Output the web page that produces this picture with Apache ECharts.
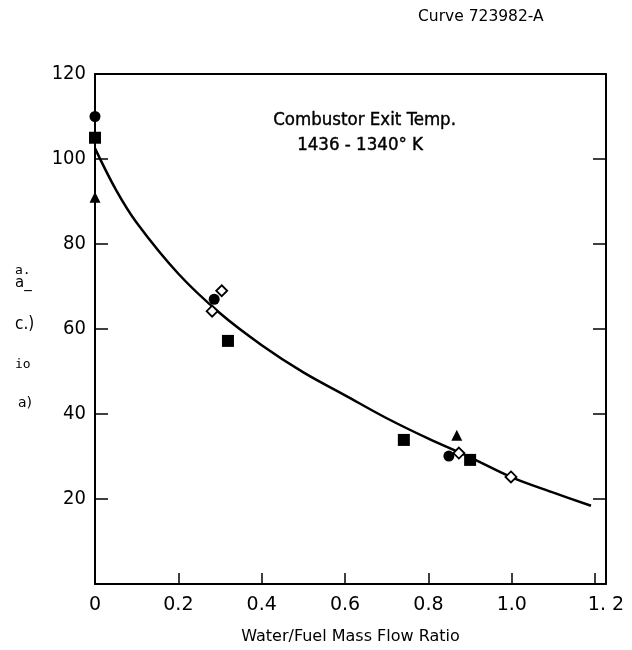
<!DOCTYPE html>
<html>
<head>
<meta charset="utf-8">
<script src="https://cdn.jsdelivr.net/npm/echarts@6/dist/echarts.min.js"></script>
<style>html,body{margin:0;padding:0;background:#fff}#c{width:632px;height:650px}</style>
</head>
<body>
<div id="c"></div>
<script>
// Fitted curve
var curveX = [0, 0.05, 0.1, 0.2, 0.3, 0.4, 0.5, 0.6, 0.7, 0.8, 0.9, 1.0, 1.1, 1.19];
var curveY = [102.5, 92.8, 85, 73, 63.7, 56.2, 49.8, 44.4, 39, 34.2, 29.8, 25.1, 21.5, 18.4];
// Measured points
var squareX = [0, 0.319, 0.741, 0.9];
var squareY = [105, 57.2, 33.9, 29.2];
var circleX = [0, 0.286, 0.849];
var circleY = [110, 67, 30.1];
var triangleX = [0, 0.868];
var triangleY = [91, 35];
var diamondX = [0.304, 0.281, 0.873, 0.998];
var diamondY = [69, 64.2, 30.8, 25.2];
// Axis ticks
var yTicks = [20, 40, 60, 80, 100, 120];

function pairs(xs, ys) { return xs.map(function (x, i) { return [x, ys[i]]; }); }

var chart = echarts.init(document.getElementById('c'), null, { renderer: 'canvas' });
function axisLine() { return { show: true, onZero: false, lineStyle: { color: '#000', width: 2 } }; }
chart.setOption({
  backgroundColor: '#fff',
  animation: false,
  grid: { left: 95, right: 26, top: 74, bottom: 66, show: false },
  xAxis: [{
    type: 'value', min: 0, max: 1.226, interval: 0.2, position: 'bottom',
    axisLine: axisLine(),
    axisTick: { show: true, inside: true, length: 11, lineStyle: { color: '#000', width: 1.5 } },
    splitLine: { show: false },
    axisLabel: {
      color: '#000', fontFamily: 'DejaVu Sans', fontSize: 19, margin: 12,
      showMinLabel: true, showMaxLabel: true,
      formatter: function (v) {
        if (v === 0) return '0';
        if (v > 1.21) return '1. 2';
        if (Math.abs(v - 1.2) < 1e-6) return '';
        return v.toFixed(1);
      }
    },
    name: 'Water/Fuel Mass Flow Ratio', nameLocation: 'middle', nameGap: 45,
    nameTextStyle: { color: '#000', fontFamily: 'DejaVu Sans', fontSize: 16 }
  }, {
    type: 'value', min: 0, max: 1.226, interval: 0.2, position: 'top',
    axisLine: axisLine(), axisTick: { show: false }, axisLabel: { show: false }, splitLine: { show: false }
  }],
  yAxis: [{
    type: 'value', min: 0, max: 120, interval: 20, position: 'left',
    axisLine: axisLine(),
    axisTick: { show: true, inside: true, length: 13, lineStyle: { color: '#000', width: 1.5 } },
    splitLine: { show: false },
    axisLabel: {
      color: '#000', fontFamily: 'DejaVu Sans Condensed', fontSize: 20, margin: 9,
      formatter: function (v) { return yTicks.indexOf(v) >= 0 ? String(v) : ''; }
    }
  }, {
    type: 'value', min: 0, max: 120, interval: 20, position: 'right',
    axisLine: axisLine(),
    axisTick: { show: true, inside: true, length: 13, lineStyle: { color: '#000', width: 1.5 } },
    axisLabel: { show: false }, splitLine: { show: false }
  }],
  series: [{
    type: 'line', smooth: 0.35, showSymbol: false, data: pairs(curveX, curveY),
    lineStyle: { color: '#000', width: 2.5 }, z: 2
  }, {
    type: 'scatter', symbol: 'rect', symbolSize: 12, data: pairs(squareX, squareY),
    itemStyle: { color: '#000', opacity: 1 }, z: 3
  }, {
    type: 'scatter', symbol: 'circle', symbolSize: 11, data: pairs(circleX, circleY),
    itemStyle: { color: '#000', opacity: 1 }, z: 3
  }, {
    type: 'scatter', symbol: 'triangle', symbolSize: 11, data: pairs(triangleX, triangleY),
    itemStyle: { color: '#000', opacity: 1 }, z: 3
  }, {
    type: 'scatter', symbol: 'diamond', symbolSize: 11, data: pairs(diamondX, diamondY),
    itemStyle: { color: '#fff', borderColor: '#000', borderWidth: 1.8, opacity: 1 }, z: 4
  }],
  graphic: [
    { type: 'text', left: 418, top: 9, style: { text: 'Curve 723982-A', fill: '#000', font: '15.5px "DejaVu Sans"' } },
    { type: 'text', left: 273, top: 110, style: { text: 'Combustor Exit Temp.', fill: '#000', font: '18.5px "DejaVu Sans Condensed"', stroke: '#000', lineWidth: 0.4 } },
    { type: 'text', left: 297, top: 135, style: { text: '1436 - 1340\u00b0 K', fill: '#000', font: '18.5px "DejaVu Sans Condensed"', stroke: '#000', lineWidth: 0.4 } },
    { type: 'text', left: 15, top: 264, style: { text: 'a.', fill: '#000', font: '13px "DejaVu Sans Mono"' } },
    { type: 'text', left: 15, top: 276, style: { text: 'a_', fill: '#000', font: '15px "DejaVu Sans"' } },
    { type: 'text', left: 15, top: 316, style: { text: 'c.)', fill: '#000', font: '17px "DejaVu Sans Condensed"' } },
    { type: 'text', left: 15, top: 358, style: { text: 'io', fill: '#000', font: '13px "DejaVu Sans Mono"' } },
    { type: 'text', left: 18, top: 396, style: { text: 'a)', fill: '#000', font: '14px "DejaVu Sans"' } }
  ]
});
</script>
</body>
</html>
